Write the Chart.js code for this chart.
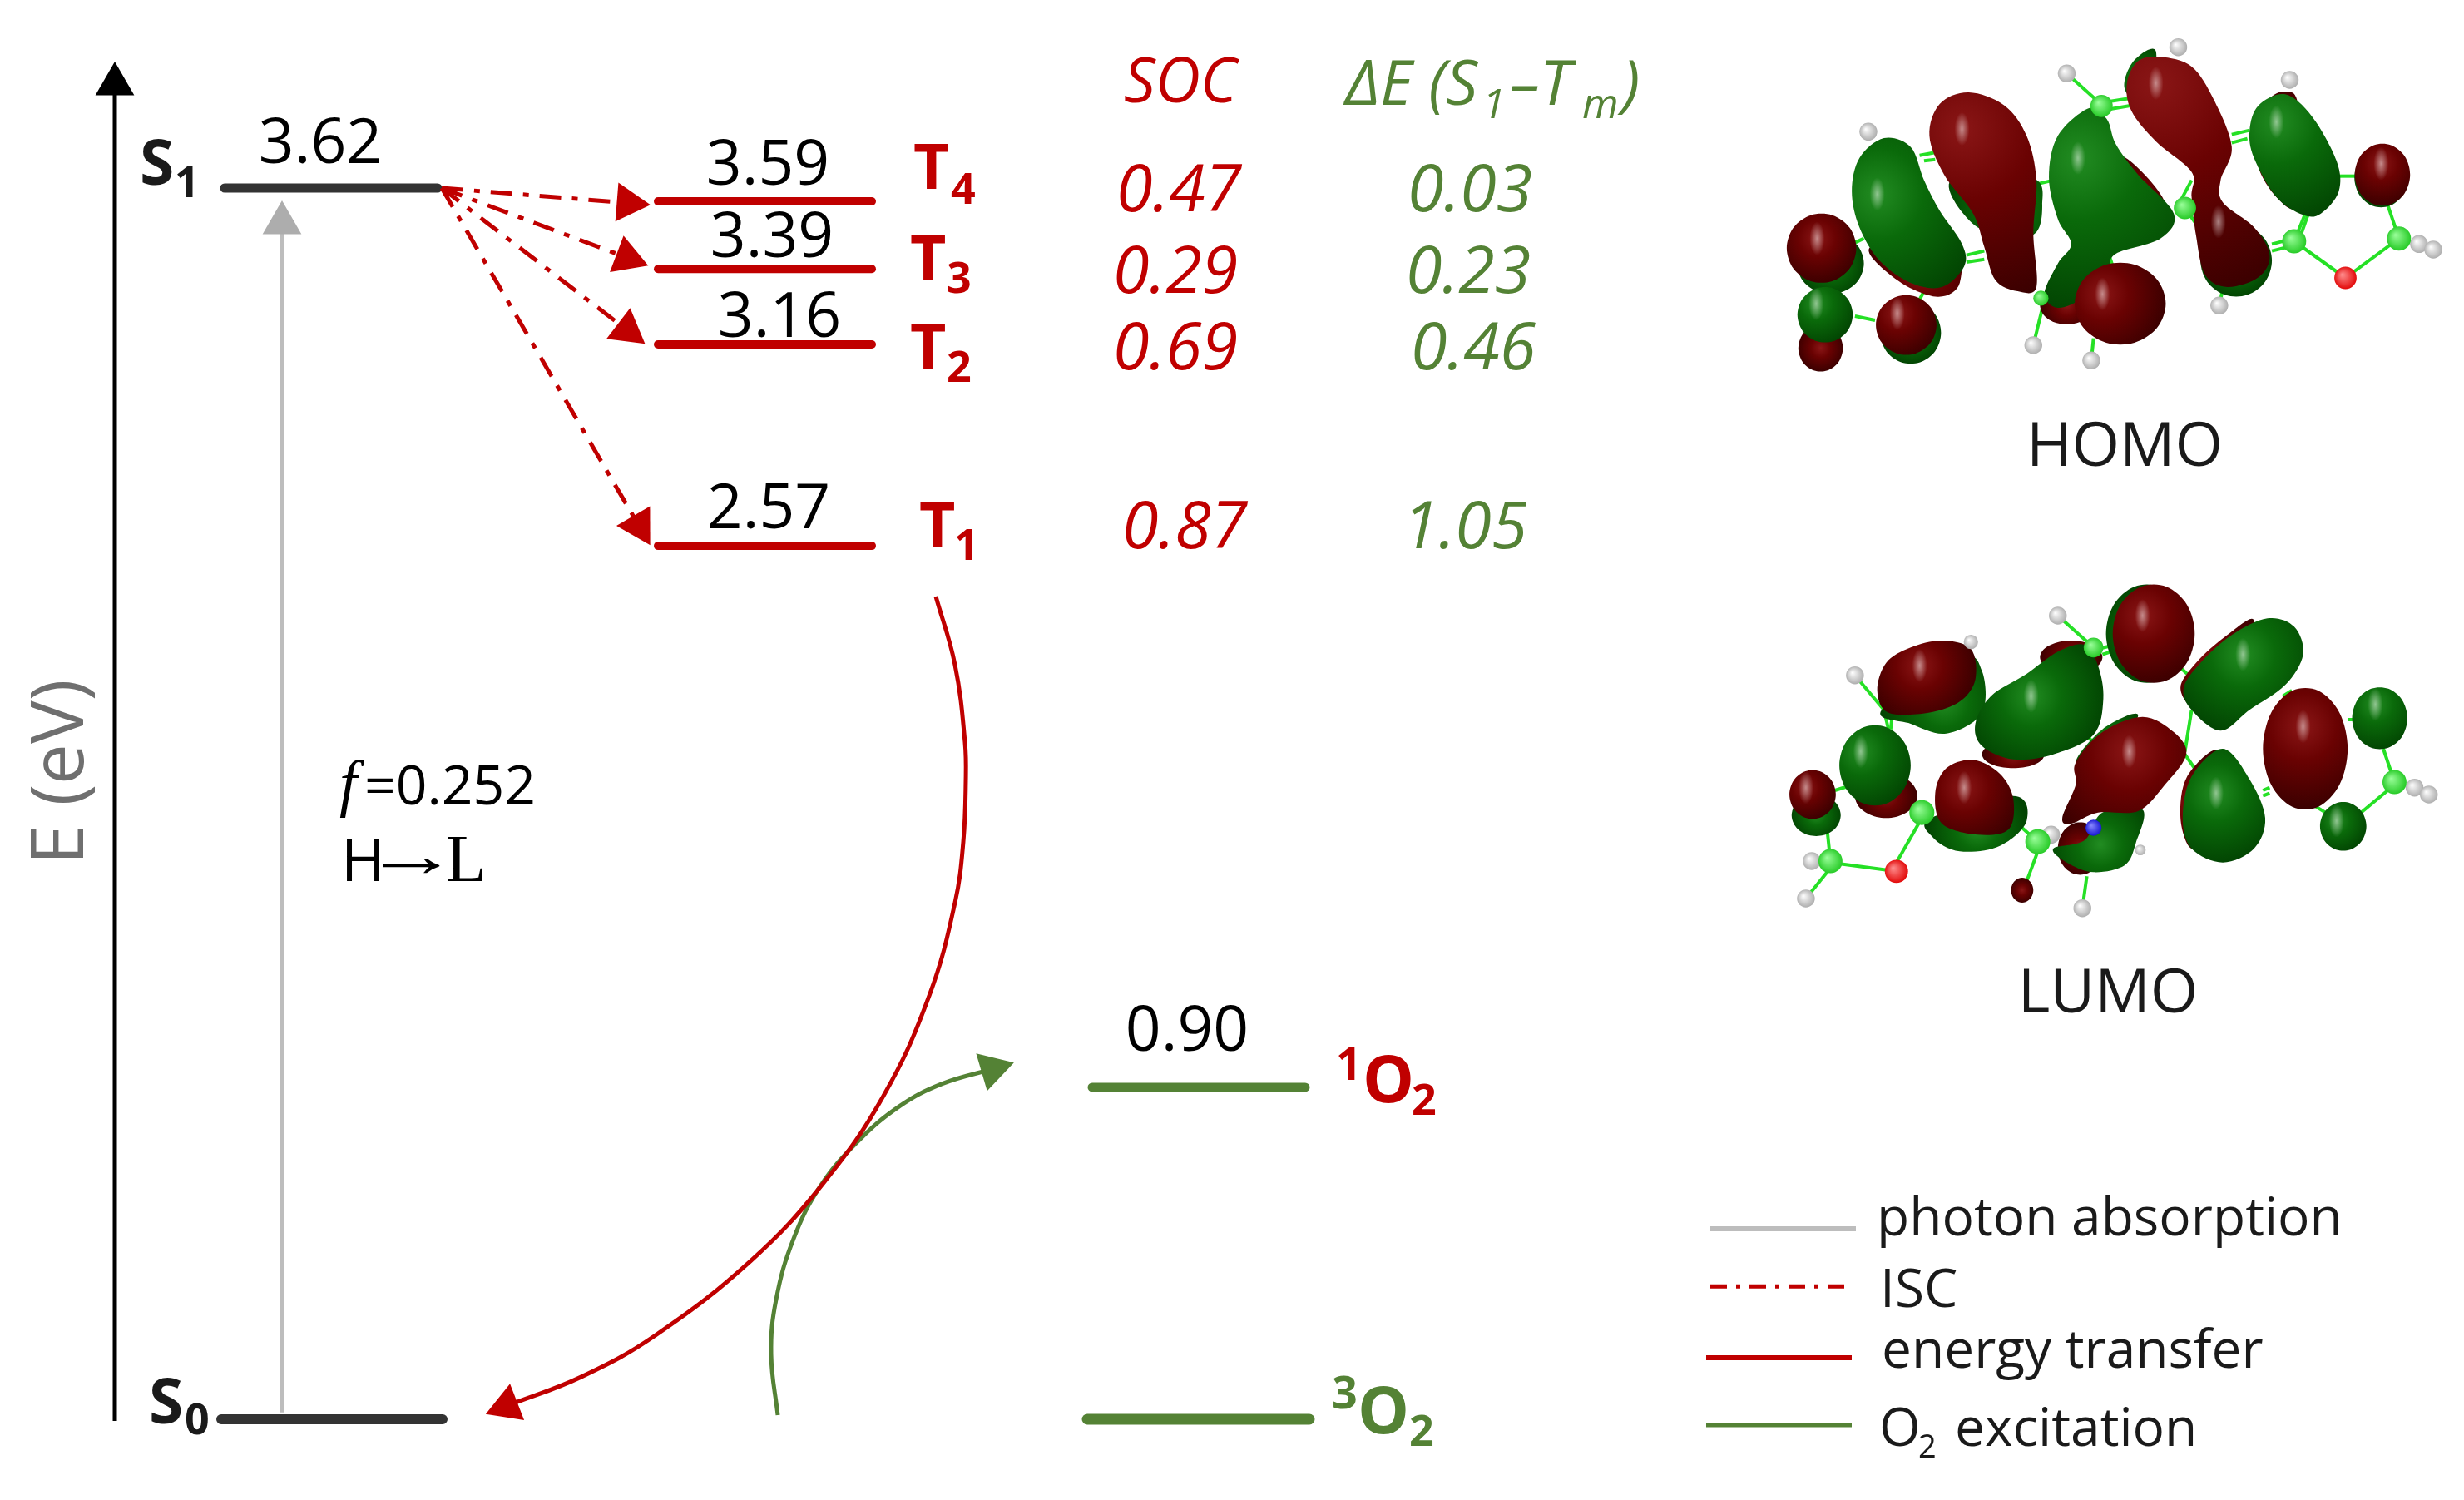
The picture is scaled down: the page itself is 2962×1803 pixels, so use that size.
<!DOCTYPE html>
<html>
<head>
<meta charset="utf-8">
<title>Energy level diagram</title>
<script src="https://cdn.jsdelivr.net/npm/chart.js@4"></script>
<style>
html, body { margin: 0; padding: 0; background: #fff; }
canvas { display: block; }
</style>
</head>
<body>
<canvas id="levelChart" width="2962" height="1803"></canvas>
<script>
// energy levels, eV (positions, printed labels kept apart)
const levelNames = ['S1', 'T4', 'T3', 'T2', 'T1', 'S0', '1O2', '3O2'];
const levelEnergies = [3.62, 3.581, 3.382, 3.16, 2.568, 0, 0.976, 0];
const levelLabels = ['3.62', '3.59', '3.39', '3.16', '2.57', '', '0.90', ''];
const socValues = ['0.47', '0.29', '0.69', '0.87'];
const deltaEValues = ['0.03', '0.23', '0.46', '1.05'];
const legendLabels = ['photon absorption', 'ISC', 'energy transfer', 'excitation'];

// arrows and curves
const axisX = [138, 138];
const axisE = [-0.005, 3.926];
const absorptionX = [339, 339];
const absorptionE = [0.02, 3.517];
const iscStartX = 531;
const iscStartE = 3.62;
const iscEndX = [755, 754, 754, 768];
const iscEndE = [3.576, 3.415, 3.202, 2.627];
const transferX = [1125, 1148, 1160, 1161, 1158, 1148, 1117, 1062, 989, 903, 788, 699, 609];
const transferE = [2.419, 2.218, 1.991, 1.876, 1.698, 1.519, 1.245, 0.951, 0.692, 0.467, 0.247, 0.125, 0.039];
const excitationX = [935, 927, 933, 954, 986, 1030, 1081, 1132, 1193];
const excitationE = [0.012, 0.191, 0.352, 0.531, 0.685, 0.814, 0.92, 0.986, 1.03];

const RED = '#C00000';
const GREEN = '#548235';
const DARK = '#333333';
const GRAY = '#BDBDBD';

function pts(xs, ys) {
    return xs.map((x, i) => ({x: x, y: ys[i]}));
}

function lineSet(label, xs, ys, color, width, opts) {
    opts = opts || {};
    const set = {
        label: label,
        data: pts(xs, ys),
        showLine: true,
        borderColor: color,
        borderWidth: width,
        borderCapStyle: opts.cap || 'butt',
        borderDash: opts.dash || [],
        tension: opts.tension || 0,
        pointRadius: 0,
        pointHoverRadius: 0
    };
    if (opts.head) {
        // arrow head sits on the last point, turned along the last segment
        set.pointStyle = 'triangle';
        set.pointBorderWidth = 0;
        set.pointBackgroundColor = opts.headColor || color;
        set.pointRadius = (c) => (c.dataIndex === xs.length - 1 ? 27 : 0);
        set.pointRotation = (c) => {
            const sx = c.chart.scales.x, sy = c.chart.scales.y;
            const n = xs.length - 1;
            const dx = sx.getPixelForValue(xs[n]) - sx.getPixelForValue(xs[n - 1]);
            const dy = sy.getPixelForValue(ys[n]) - sy.getPixelForValue(ys[n - 1]);
            return Math.atan2(dx, -dy) * 180 / Math.PI;
        };
    }
    return set;
}

const levelSpans = [[270, 526], [791, 1048], [791, 1048], [791, 1048], [791, 1048], [266, 532], [1313, 1569], [1307, 1574]];
const levelColors = [DARK, RED, RED, RED, RED, DARK, GREEN, GREEN];
const levelWidths = [11, 10, 10, 10, 10, 12, 11, 13];

const datasets = [];
datasets.push(lineSet('axis', axisX, axisE, '#000000', 5, {head: true}));
datasets.push(lineSet('photon absorption', absorptionX, absorptionE, GRAY, 6, {head: true, headColor: '#ADADAD'}));
iscEndX.forEach((x, i) => {
    datasets.push(lineSet('ISC', [iscStartX, x], [iscStartE, iscEndE[i]], RED, 5, {head: true, dash: [26, 13, 7, 13]}));
});
datasets.push(lineSet('energy transfer', transferX, transferE, RED, 5, {head: true, tension: 0.4}));
datasets.push(lineSet('O2 excitation', excitationX, excitationE, GREEN, 5, {head: true, tension: 0.4}));
levelNames.forEach((name, i) => {
    datasets.push(lineSet(name, levelSpans[i], [levelEnergies[i], levelEnergies[i]], levelColors[i], levelWidths[i], {cap: 'round'}));
});
// legend swatches
datasets.push(lineSet('key gray', [2056, 2231], [0.56, 0.56], GRAY, 6));
datasets.push(lineSet('key isc', [2056, 2217], [0.391, 0.391], RED, 5, {dash: [20, 11, 5, 11]}));
datasets.push(lineSet('key red', [2051, 2226], [0.181, 0.181], RED, 6));
datasets.push(lineSet('key green', [2051, 2226], [-0.017, -0.017], GREEN, 5));

function put(ctx, text, x, y, font, color, align) {
    ctx.font = font;
    ctx.fillStyle = color;
    ctx.textAlign = align || 'left';
    ctx.textBaseline = 'alphabetic';
    ctx.fillText(text, x, y);
}

const SANS = '"Open Sans"';

// state name with sub/superscript pieces
function stateLabel(ctx, main, x, y, sub, subX, subY, color) {
    put(ctx, main, x, y, 'bold 75px ' + SANS, color);
    put(ctx, sub, subX, subY, 'bold 52px ' + SANS, color);
}

function drawTexts(ctx) {
    const valueFont = '75px ' + SANS;
    put(ctx, levelLabels[0], 385, 196, valueFont, '#000', 'center');
    put(ctx, levelLabels[1], 923, 222, valueFont, '#000', 'center');
    put(ctx, levelLabels[2], 928, 309, valueFont, '#000', 'center');
    put(ctx, levelLabels[3], 937, 405, valueFont, '#000', 'center');
    put(ctx, levelLabels[4], 924, 635, valueFont, '#000', 'center');
    put(ctx, levelLabels[6], 1427, 1263, valueFont, '#000', 'center');

    stateLabel(ctx, 'S', 168, 222, '1', 210, 237, '#1a1a1a');
    stateLabel(ctx, 'S', 179, 1711, '0', 222, 1724, '#1a1a1a');
    stateLabel(ctx, 'T', 1098, 227, '4', 1143, 245, RED);
    stateLabel(ctx, 'T', 1094, 337, '3', 1138, 352, RED);
    stateLabel(ctx, 'T', 1094, 443, '2', 1138, 459, RED);
    stateLabel(ctx, 'T', 1105, 658, '1', 1147, 673, RED);

    put(ctx, '1', 1606, 1298, 'bold 54px ' + SANS, RED);
    put(ctx, 'O', 1638, 1325, 'bold 78px ' + SANS, RED);
    put(ctx, '2', 1697, 1340, 'bold 52px ' + SANS, RED);
    put(ctx, '3', 1601, 1693, 'bold 54px ' + SANS, GREEN);
    put(ctx, 'O', 1632, 1723, 'bold 78px ' + SANS, GREEN);
    put(ctx, '2', 1694, 1738, 'bold 52px ' + SANS, GREEN);

    const rowY = [254, 352, 444, 659];
    const socX = [1342, 1338, 1338, 1349];
    const deltaX = [1692, 1690, 1696, 1686];
    const italic = 'italic 79px ' + SANS;
    put(ctx, 'SOC', 1351, 123, 'italic 75px ' + SANS, RED);
    socValues.forEach((v, i) => put(ctx, v, socX[i], rowY[i], italic, RED));
    deltaEValues.forEach((v, i) => put(ctx, v, deltaX[i], rowY[i], italic, GREEN));

    put(ctx, 'ΔE (S', 1617, 126, 'italic 75px ' + SANS, GREEN);
    put(ctx, '1', 1782, 142, 'italic 50px ' + SANS, GREEN);
    put(ctx, '–T', 1815, 126, 'italic 75px ' + SANS, GREEN);
    put(ctx, 'm', 1902, 142, 'italic 50px ' + SANS, GREEN);
    put(ctx, ')', 1950, 126, 'italic 75px ' + SANS, GREEN);

    put(ctx, 'f', 408, 967, 'italic 76px "Liberation Serif"', '#000');
    put(ctx, '=0.252', 438, 967, '66px ' + SANS, '#000');
    put(ctx, 'H', 410, 1059, '72px ' + SANS, '#000');
    // arrow is stretched sideways to reach the L
    ctx.save();
    ctx.translate(437, 1053);
    ctx.scale(1.55, 1);
    put(ctx, '→', 0, 0, '74px "Liberation Serif"', '#000');
    ctx.restore();
    put(ctx, 'L', 536, 1059, '80px "Liberation Serif"', '#000');

    ctx.save();
    ctx.translate(100, 928);
    ctx.rotate(-Math.PI / 2);
    put(ctx, 'E (eV)', 0, 0, '87px ' + SANS, '#6F6F6F', 'center');
    ctx.restore();

    put(ctx, 'HOMO', 2554, 560, '74px ' + SANS, '#1a1a1a', 'center');
    put(ctx, 'LUMO', 2534, 1217, '74px ' + SANS, '#1a1a1a', 'center');

    const keyFont = '64px ' + SANS;
    put(ctx, legendLabels[0], 2256, 1485, keyFont, '#1a1a1a');
    put(ctx, legendLabels[1], 2260, 1571, keyFont, '#1a1a1a');
    put(ctx, legendLabels[2], 2262, 1644, keyFont, '#1a1a1a');
    put(ctx, 'O', 2259, 1738, keyFont, '#1a1a1a');
    put(ctx, '2', 2306, 1752, '38px ' + SANS, '#1a1a1a');
    put(ctx, legendLabels[3], 2350, 1738, keyFont, '#1a1a1a');
}

// orbital pictures, outlines traced from the two molecule renderings
function ell(cx, cy, rx, ry) {
    const out = [];
    for (let k = 0; k < 10; k++) {
        const a = k * Math.PI / 5;
        out.push(cx + rx * Math.cos(a), cy + ry * Math.sin(a));
    }
    return out;
}

const homoView = {ox: 2120, oy: 30, sx: 0.536, sy: 1 / 3};
const homoBonds = [[350,470,385,460],[360,490,385,485],[455,830,495,815],[455,855,495,845],[610,575,650,560],[680,175,760,290],[760,280,820,265],[770,305,825,290],
    [1050,395,1090,380],[1050,425,1085,410],[1290,545,1330,545],[1400,650,1425,770],[1425,770,1305,912],[1305,912,1190,780],[1140,790,1190,770],[1140,815,1190,795],
    [1190,780,1215,680],[1200,780,1222,680],[630,990,605,1155],[775,830,785,880],[740,1130,735,1210],[1030,950,1022,1012],[205,785,225,770],[205,1050,250,1065],[365,945,350,990],[960,560,930,650],[945,660,980,740],[800,950,700,960]];
const homoBlobs = [
    {c: 'g', p: ell(150, 860, 75, 110)},
    {c: 'r', p: ell(130, 805, 78, 125), h: [120, 770]},
    {c: 'r', p: ell(128, 1165, 50, 85)},
    {c: 'g', p: ell(138, 1045, 62, 100), h: [118, 1005]},
    {c: 'g', p: ell(330, 1110, 68, 112)},
    {c: 'r', p: ell(320, 1082, 68, 108), h: [300, 1040]},
    {c: 'r', p: [240,800, 300,920, 390,980, 440,930, 420,800]},
    {c: 'g', p: [270,408, 330,440, 360,560, 395,670, 445,790, 450,870, 400,945, 330,930, 260,850, 215,730, 198,600, 215,480], h: [255, 610]},
    {c: 'g', p: [420,560, 480,730, 600,760, 625,650, 600,550]},
    {c: 'r', p: [460,243, 540,290, 590,400, 612,560, 605,750, 612,945, 570,960, 520,920, 495,800, 470,680, 405,540, 372,400, 395,285], h: [445, 375]},
    {c: 'r', p: ell(680, 1010, 60, 70)},
    {c: 'r', p: [800,470, 900,640, 840,720, 760,600]},
    {c: 'g', p: [730,300, 770,340, 790,430, 840,540, 920,680, 890,770, 790,825, 770,890, 720,980, 660,1020, 630,970, 660,860, 690,790, 660,700, 640,550, 660,400], h: [705, 480]},
    {c: 'r', p: ell(800, 1005, 102, 148), h: [760, 970]},
    {c: 'g', p: ell(1060, 850, 80, 130)},
    {c: 'g', p: [880,95, 830,130, 810,230, 860,300]},
    {c: 'r', p: [890,115, 960,150, 1010,270, 1050,440, 1025,560, 1030,640, 1100,730, 1135,830, 1110,910, 1040,945, 990,900, 970,760, 960,620, 960,530, 880,420, 825,310, 815,210, 840,130], h: [880, 210]},
    {c: 'r', p: [1170,240, 1125,290, 1105,480, 1150,620, 1200,640, 1200,300]},
    {c: 'g', p: [1170,250, 1230,330, 1285,490, 1290,600, 1250,680, 1210,685, 1150,620, 1100,480, 1090,380, 1110,290], h: [1150, 350]},
    {c: 'g', p: ell(1385, 550, 60, 108)},
    {c: 'r', p: ell(1388, 540, 62, 112), h: [1385, 500]}
];
const homoHighlights = [[1020, 710]];
const homoAtoms = [[235,385,20,'h'],[680,175,20,'h'],[930,80,20,'h'],[1180,198,20,'h'],[1470,790,20,'h'],[1502,810,20,'h'],[1022,1012,20,'h'],[605,1155,20,'h'],[735,1210,20,'h'],
    [758,292,25,'c'],[945,660,25,'c'],[1190,780,27,'c'],[1425,770,27,'c'],[622,985,17,'c'],[1305,912,25,'o']];

const lumoView = {ox: 2120, oy: 690, sx: 0.536, sy: 1 / 3};
const lumoBonds = [[205,365,270,490],[270,490,280,560],[290,490,285,560],[465,450,490,490],[455,470,480,495],[660,150,740,265],[750,270,790,255],[760,290,790,275],[930,330,950,360],
    [960,490,945,640],[945,650,975,720],[1165,440,1185,420],[1120,780,1135,770],[1120,800,1135,790],[1310,525,1325,525],[1390,630,1415,750],[1415,760,1340,860],[1230,830,1260,860],
    [140,880,150,1035],[150,1040,298,1072],[298,1040,355,880],[340,800,320,790],[160,780,190,765],[95,1170,150,1060],[555,880,615,965],[615,1000,585,1130],[725,1090,715,1205],[730,590,740,610],[515,650,510,680],[535,645,530,680],[690,940,725,935],[355,860,320,790]];
const lumoBlobs = [
    {c: 'g', p: ell(118, 870, 55, 75)},
    {c: 'r', p: ell(110, 795, 52, 88), h: [95, 770]},
    {c: 'r', p: ell(275, 800, 70, 80)},
    {c: 'g', p: ell(250, 690, 80, 145), h: [218, 640]},
    {c: 'g', p: [265,490, 330,540, 410,575, 490,500, 490,350, 440,300]},
    {c: 'r', p: [400,240, 465,270, 475,380, 440,460, 370,500, 280,500, 255,420, 275,320, 330,265], h: [350, 330]},
    {c: 'r', p: ell(690, 300, 70, 60)},
    {c: 'r', p: ell(560, 650, 70, 50)},
    {c: 'g', p: [720,255, 750,330, 762,450, 740,580, 650,650, 560,668, 490,620, 475,540, 510,440, 590,360, 660,280], h: [600, 440]},
    {c: 'g', p: ell(860, 215, 92, 178)},
    {c: 'r', p: ell(875, 215, 92, 178), h: [850, 150]},
    {c: 'r', p: [1100,170, 1040,220, 970,320, 935,410, 970,480, 1050,400]},
    {c: 'g', p: [1130,160, 1190,190, 1210,290, 1170,400, 1090,490, 1025,565, 960,490, 942,410, 980,320, 1050,220], h: [1075, 290]},
    {c: 'r', p: ell(1215, 630, 95, 220), h: [1210, 550]},
    {c: 'g', p: ell(1382, 520, 62, 112), h: [1372, 470]},
    {c: 'g', p: [375,880, 560,800, 590,890, 530,980, 440,1000, 380,950]},
    {c: 'r', p: [470,670, 530,720, 560,810, 550,920, 480,940, 400,900, 385,790, 410,700], h: [450, 770]},
    {c: 'r', p: ell(710, 990, 50, 95)},
    {c: 'g', p: [650,990, 720,960, 760,860, 850,850, 835,970, 810,1050, 740,1075, 680,1040]},
    {c: 'g', p: [840,510, 760,560, 700,680, 760,700]},
    {c: 'r', p: [850,515, 920,570, 948,650, 900,760, 840,855, 750,860, 690,900, 670,880, 700,760, 700,680, 760,570], h: [820, 640]},
    {c: 'r', p: [1020,640, 950,730, 935,880, 960,990, 1000,900]},
    {c: 'g', p: [1030,630, 1090,740, 1125,880, 1100,990, 1030,1040, 960,990, 940,880, 960,730], h: [1015, 790]},
    {c: 'g', p: ell(1300, 910, 52, 88), h: [1285, 890]},
    {c: 'r', p: ell(580, 1140, 25, 45)}
];
const lumoHighlights = [];
const lumoAtoms = [[205,365,20,'h'],[660,150,20,'h'],[465,245,16,'h'],[1460,770,20,'h'],[1492,795,20,'h'],[108,1035,20,'h'],[95,1170,20,'h'],[715,1205,20,'h'],[645,940,20,'h'],[845,995,12,'h'],
    [150,1035,27,'c'],[355,860,28,'c'],[615,965,28,'c'],[740,265,22,'c'],[1415,750,27,'c'],[298,1072,26,'o'],[740,915,18,'n']];

const atomColors = {h: ['#ffffff', '#a8a8a8'], c: ['#9cff9c', '#1fc71f'], o: ['#ff9090', '#e00000'], n: ['#8a8aff', '#1010d0']};

function blobPath(ctx, p) {
    const n = p.length / 2;
    const get = (i) => [p[((i + n) % n) * 2], p[((i + n) % n) * 2 + 1]];
    ctx.beginPath();
    ctx.moveTo(p[0], p[1]);
    for (let i = 0; i < n; i++) {
        const a = get(i - 1), b = get(i), c = get(i + 1), d = get(i + 2);
        ctx.bezierCurveTo(b[0] + (c[0] - a[0]) / 6, b[1] + (c[1] - a[1]) / 6,
            c[0] - (d[0] - b[0]) / 6, c[1] - (d[1] - b[1]) / 6, c[0], c[1]);
    }
    ctx.closePath();
}

function spot(ctx, x, y, rx, ry) {
    const g = ctx.createRadialGradient(0, 0, 0, 0, 0, 1);
    g.addColorStop(0, 'rgba(255,255,255,0.5)');
    g.addColorStop(1, 'rgba(255,255,255,0)');
    ctx.save();
    ctx.translate(x, y);
    ctx.scale(rx, ry);
    ctx.fillStyle = g;
    ctx.beginPath();
    ctx.arc(0, 0, 1, 0, Math.PI * 2);
    ctx.fill();
    ctx.restore();
}

function drawMolecule(ctx, v, bonds, blobs, highlights, atoms) {
    const px = (x) => v.ox + x * v.sx;
    const py = (y) => v.oy + y * v.sy;
    ctx.save();
    ctx.strokeStyle = '#25E025';
    ctx.lineWidth = 4;
    bonds.forEach((b) => {
        ctx.beginPath();
        ctx.moveTo(px(b[0]), py(b[1]));
        ctx.lineTo(px(b[2]), py(b[3]));
        ctx.stroke();
    });
    blobs.forEach((b) => {
        const p = b.p.map((val, i) => (i % 2 ? py(val) : px(val)));
        let cx = 0, cy = 0;
        for (let i = 0; i < p.length; i += 2) { cx += p[i]; cy += p[i + 1]; }
        cx /= p.length / 2;
        cy /= p.length / 2;
        const hx = b.h ? px(b.h[0]) : cx, hy = b.h ? py(b.h[1]) : cy;
        let far = 0;
        for (let i = 0; i < p.length; i += 2) far = Math.max(far, Math.hypot(p[i] - hx, p[i + 1] - hy));
        const g = ctx.createRadialGradient(hx, hy, 0, hx, hy, far * 1.02);
        if (b.c === 'r') {
            g.addColorStop(0, '#8A1616');
            g.addColorStop(0.4, '#6A0202');
            g.addColorStop(1, '#3A0000');
        } else {
            g.addColorStop(0, '#228C22');
            g.addColorStop(0.4, '#0A6A0A');
            g.addColorStop(1, '#024402');
        }
        blobPath(ctx, p);
        ctx.fillStyle = g;
        ctx.fill();
        if (b.h) spot(ctx, hx, hy, 9, 20);
    });
    highlights.forEach((h) => spot(ctx, px(h[0]), py(h[1]), 9, 20));
    atoms.forEach((a) => {
        const x = px(a[0]), y = py(a[1]);
        const r = a[2] * v.sx;
        const cols = atomColors[a[3]];
        const g = ctx.createRadialGradient(x - r * 0.3, y - r * 0.3, 0, x, y, r * 1.1);
        g.addColorStop(0, cols[0]);
        g.addColorStop(1, cols[1]);
        ctx.fillStyle = g;
        ctx.beginPath();
        ctx.arc(x, y, r, 0, Math.PI * 2);
        ctx.fill();
    });
    ctx.restore();
}

const annotations = {
    id: 'annotations',
    beforeDatasetsDraw(chart) {
        drawMolecule(chart.ctx, homoView, homoBonds, homoBlobs, homoHighlights, homoAtoms);
        drawMolecule(chart.ctx, lumoView, lumoBonds, lumoBlobs, lumoHighlights, lumoAtoms);
    },
    afterDraw(chart) {
        drawTexts(chart.ctx);
    }
};

new Chart(document.getElementById('levelChart').getContext('2d'), {
    type: 'scatter',
    data: {datasets: datasets},
    options: {
        responsive: false,
        devicePixelRatio: 1,
        animation: false,
        layout: {padding: 0, autoPadding: false},
        scales: {
            x: {type: 'linear', min: 0, max: 2962, display: false},
            y: {type: 'linear', min: -0.2373, max: 4.1728, display: false}
        },
        plugins: {
            legend: {display: false},
            tooltip: {enabled: false}
        }
    },
    plugins: [annotations]
});
</script>
</body>
</html>
